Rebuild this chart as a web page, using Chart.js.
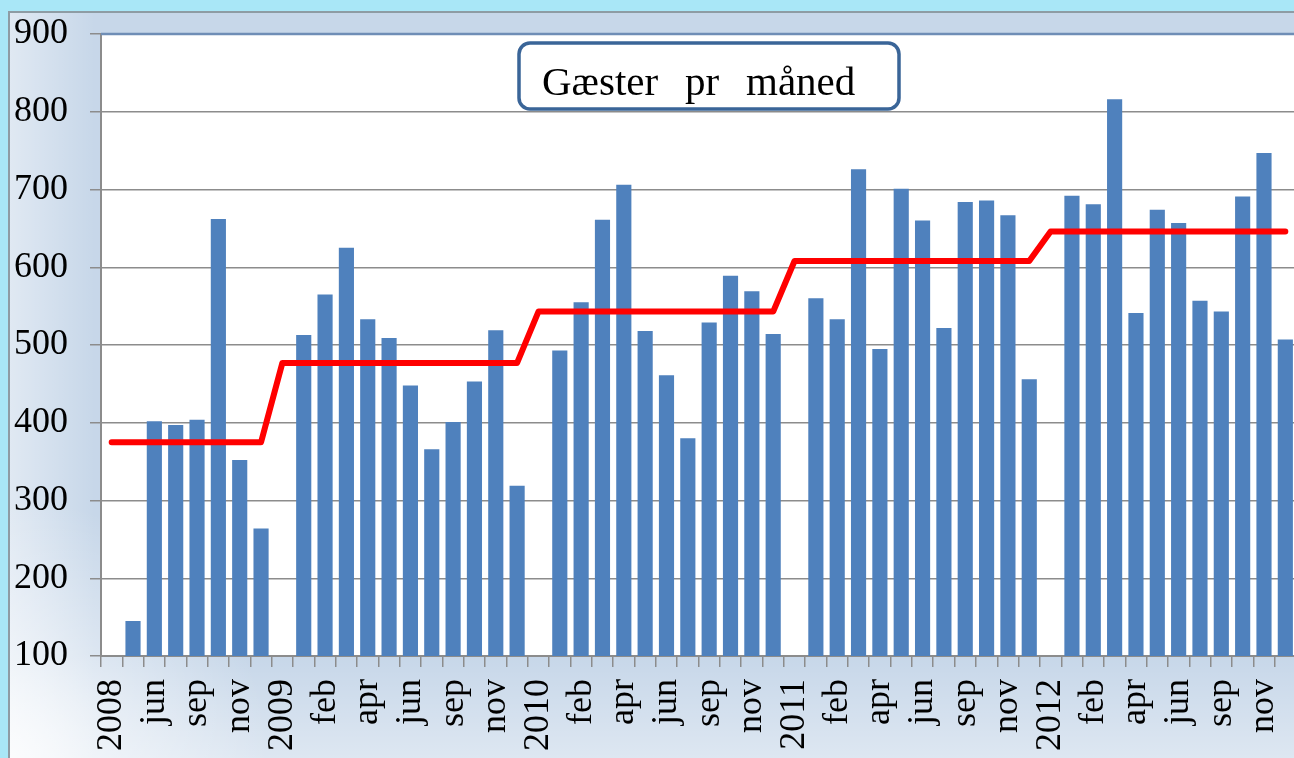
<!DOCTYPE html>
<html>
<head>
<meta charset="utf-8">
<script src="https://cdn.jsdelivr.net/npm/chart.js@4/dist/chart.umd.min.js"></script>
<style>
  html, body { margin: 0; padding: 0; width: 1294px; height: 758px; overflow: hidden; background: #a9e7f7; }
  #chart { display: block; }
</style>
</head>
<body>
<canvas id="chart" width="1296" height="758"></canvas>
<script>
// categories: a year marker followed by the months of that year (july is missing)
const labels = [
  "2008", "maj", "jun", "aug", "sep", "okt", "nov", "dec",
  "2009", "jan", "feb", "mar", "apr", "maj", "jun", "aug", "sep", "okt", "nov", "dec",
  "2010", "jan", "feb", "mar", "apr", "maj", "jun", "aug", "sep", "okt", "nov", "dec",
  "2011", "jan", "feb", "mar", "apr", "maj", "jun", "aug", "sep", "okt", "nov", "dec",
  "2012", "jan", "feb", "mar", "apr", "maj", "jun", "aug", "sep", "okt", "nov", "dec"
];

// guests per month (null on the year markers)
const guests = [
  null, 145, 402, 397, 404, 662, 352, 264,
  null, 513, 565, 625, 533, 509, 448, 366, 401, 453, 519, 319,
  null, 493, 555, 661, 706, 518, 461, 380, 529, 589, 569, 514,
  null, 560, 533, 726, 495, 701, 660, 522, 684, 686, 667, 456,
  null, 692, 681, 816, 541, 674, 657, 557, 543, 691, 747, 507
];

// yearly average (red line)
const yearAvg = [375, 477, 543, 608, 646];

const yMin = 100;
const yMax = 900;
const yStep = 100;

const titleWords = ["Gæster", "pr", "måned"];

let group = -1;
const avgLine = labels.map(l => {
  if (/^\d{4}$/.test(l)) group++;
  return yearAvg[group];
});

const serif = '"Liberation Serif", "Times New Roman", serif';
const gridGray = "#8c8c8c";

const backdrop = {
  id: "backdrop",
  beforeDraw(chart) {
    const ctx = chart.ctx;
    const a = chart.chartArea;
    const W = chart.width, H = chart.height;
    ctx.save();
    ctx.fillStyle = "#a9e7f7";
    ctx.fillRect(0, 0, W, H);

    ctx.fillStyle = "#c7d7e9";
    ctx.fillRect(9, 12, W, H);

    let g = ctx.createLinearGradient(9, 0, 95, 0);
    g.addColorStop(0, "rgba(255,255,255,0.45)");
    g.addColorStop(1, "rgba(255,255,255,0)");
    ctx.fillStyle = g;
    ctx.fillRect(9, 12, 92, H);

    g = ctx.createLinearGradient(0, a.bottom, 0, H);
    g.addColorStop(0, "rgba(255,255,255,0)");
    g.addColorStop(1, "rgba(255,255,255,0.4)");
    ctx.fillStyle = g;
    ctx.fillRect(9, a.bottom, W, H - a.bottom);

    g = ctx.createRadialGradient(9, H, 0, 9, H, 260);
    g.addColorStop(0, "rgba(255,255,255,0.8)");
    g.addColorStop(1, "rgba(255,255,255,0)");
    ctx.fillStyle = g;
    ctx.fillRect(9, H - 260, 260, 260);

    ctx.strokeStyle = "#8e9ca4";
    ctx.lineWidth = 2;
    ctx.beginPath();
    ctx.moveTo(9, H);
    ctx.lineTo(9, 12);
    ctx.lineTo(W, 12);
    ctx.stroke();

    ctx.fillStyle = "#ffffff";
    ctx.fillRect(a.left, a.top, a.right - a.left, a.bottom - a.top);
    ctx.restore();
  },
  afterDraw(chart) {
    const ctx = chart.ctx;
    const a = chart.chartArea;
    ctx.save();
    ctx.strokeStyle = "#6f8eb6";
    ctx.lineWidth = 2.5;
    ctx.beginPath();
    ctx.moveTo(a.left, a.top);
    ctx.lineTo(a.right, a.top);
    ctx.stroke();

    // title box
    ctx.fillStyle = "#ffffff";
    ctx.strokeStyle = "#3a6598";
    ctx.lineWidth = 3.5;
    ctx.beginPath();
    ctx.roundRect(519, 43, 380, 66, 11);
    ctx.fill();
    ctx.stroke();

    ctx.fillStyle = "#000000";
    ctx.font = "41px " + serif;
    ctx.textBaseline = "alphabetic";
    ctx.textAlign = "left";
    const xs = [542, 685, 746];
    titleWords.forEach((w, i) => ctx.fillText(w, xs[i], 95));
    ctx.restore();
  }
};

new Chart(document.getElementById("chart"), {
  type: "bar",
  data: {
    labels: labels,
    datasets: [
      {
        type: "line",
        label: "Gennemsnit",
        data: avgLine,
        borderColor: "#ff0000",
        borderWidth: 6,
        tension: 0,
        pointRadius: 0,
        borderCapStyle: "round",
        borderJoinStyle: "round",
        order: 0
      },
      {
        label: "Gæster",
        data: guests,
        backgroundColor: "#4f81bd",
        barPercentage: 0.71,
        categoryPercentage: 1,
        order: 1
      }
    ]
  },
  options: {
    responsive: false,
    animation: false,
    layout: { padding: { top: 34, left: 0, right: 0, bottom: 0 } },
    plugins: {
      legend: { display: false },
      tooltip: { enabled: false }
    },
    scales: {
      x: {
        ticks: {
          autoSkip: false,
          minRotation: 90,
          maxRotation: 90,
          padding: 12,
          color: "#000",
          font: { family: serif, size: 36 },
          callback: (v, i) => (i % 2 === 0 ? labels[i] : "")
        },
        grid: { drawOnChartArea: false, drawTicks: true, tickLength: 11, color: gridGray, lineWidth: 1.5, offset: true },
        border: { color: gridGray, width: 2 },
        afterFit(s) {
          s.height = 102;
          s.paddingLeft = 0;
          s.paddingRight = 0;
        }
      },
      y: {
        min: yMin,
        max: yMax,
        ticks: {
          stepSize: yStep,
          padding: 22,
          color: "#000",
          font: { family: serif, size: 36 }
        },
        grid: { color: gridGray, lineWidth: 1.5, tickLength: 11, drawTicks: true },
        border: { color: gridGray, width: 2 },
        afterFit(s) {
          s.width = 101;
          s.paddingTop = 0;
          s.paddingBottom = 0;
        }
      }
    }
  },
  plugins: [backdrop]
});
</script>
</body>
</html>
